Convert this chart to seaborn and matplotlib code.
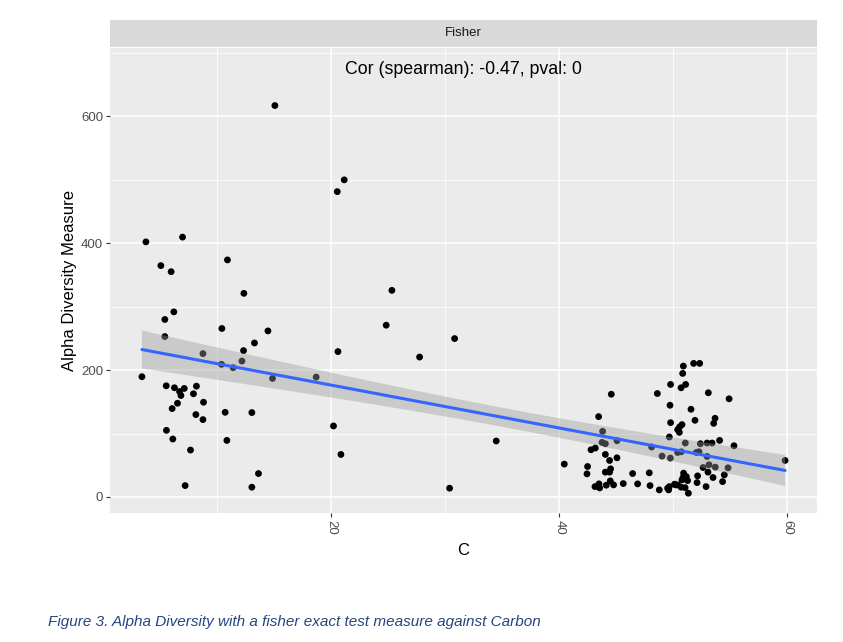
import matplotlib
matplotlib.use("Agg")
import matplotlib.pyplot as plt
from matplotlib.ticker import MultipleLocator
import numpy as np
import pandas as pd
import seaborn as sns

# ---- data ----
carbon_low = [3.75, 6.96, 5.06, 5.96, 10.9, 12.34, 6.2, 5.41, 10.41, 14.45,
              5.41, 13.27, 12.31, 8.75, 12.17, 10.38, 11.4, 14.85, 3.4, 5.53,
              6.25, 7.11, 6.7, 6.82, 8.18, 7.92, 6.52, 8.8, 6.05, 10.7,
              13.04, 8.13, 8.75, 5.55, 6.11, 10.85, 7.66, 13.62, 7.19, 13.04,
              15.06]
alpha_low = [402, 409.5, 364.6, 355, 373.6, 320.9, 291.7, 279.7, 265.5, 261.7,
             252.8, 242.7, 230.6, 225.9, 214.2, 209, 203.7, 186.8, 189.5, 175.2,
             172.1, 171, 166.2, 159.9, 174.6, 162.6, 147.7, 149.3, 139.3, 133.4,
             133, 129.8, 121.9, 105, 91.3, 89.1, 73.9, 36.9, 17.9, 15.4,
             616.9]

carbon_mid = [21.14, 20.53, 25.32, 24.82, 30.82, 20.59, 27.75, 18.68, 20.2, 20.85,
              34.47, 30.38]
alpha_mid = [499.8, 481.2, 325.6, 270.7, 249.6, 229.1, 220.5, 188.9, 111.9, 67,
             88.2, 13.8]

carbon_high = [44.56, 48.6, 49.76, 49.71, 43.45, 49.76, 43.8, 43.75, 44.04, 45.06,
               43.16, 42.78, 48.1, 49.65, 44.04, 45.06, 44.41, 40.44, 49.01, 49.74,
               42.48, 44.5, 44.04, 44.41, 42.43, 46.43, 47.89, 44.47, 44.76, 45.61,
               46.87, 47.96, 43.48, 43.13, 44.12, 43.54, 48.77, 49.5, 49.65, 50.11,
               51.78, 52.31, 50.88, 50.82, 51.08, 50.68, 53.07, 54.89, 51.55, 51.9,
               53.66, 53.54, 50.76, 50.55, 50.38, 50.53, 51.05, 52.37, 52.96, 53.4,
               54.06, 55.32, 59.8, 50.38, 50.7, 52.02, 52.25, 52.96, 52.61, 53.13,
               53.68, 54.8, 53.04, 54.47, 53.48, 54.32, 50.9, 51.14, 50.85, 52.13,
               50.76, 51.25, 52.08, 52.87, 51.03, 51.32, 50.38, 50.2, 50.68, 49.59]
alpha_high = [161.9, 163, 177.3, 144.5, 126.6, 117.1, 103.4, 86, 83.9, 88.6,
              77.1, 74.4, 78.7, 94.5, 67, 61.7, 57.5, 51.8, 64.4, 61.3,
              48, 44.3, 39.1, 39.1, 36.4, 36.9, 38, 25.3, 19, 21.1,
              20.6, 17.9, 20.6, 16.3, 18.5, 14.2, 11.1, 13.8, 16.3, 20.1,
              210.5, 210.5, 206.3, 194.7, 177.3, 172.1, 164.2, 154.7, 138.2, 120.8,
              124, 116, 114, 110.3, 106.1, 101.8, 85, 83.9, 85, 85,
              89.1, 80.7, 57.5, 70.1, 71.2, 70.1, 71.2, 63.8, 46.4, 50.7,
              47, 45.9, 39.1, 34.8, 30.6, 24.2, 37.5, 32.1, 30.6, 33.2,
              26.9, 25.8, 22.6, 16.3, 14.7, 5.9, 19, 19, 15.4, 11.1]

panel_label = "Fisher"
annotation = "Cor (spearman): -0.47, pval: 0"
x_label = "C"
y_label = "Alpha Diversity Measure"
caption = "Figure 3. Alpha Diversity with a fisher exact test measure against Carbon"
x_ticks = [20, 40, 60]
y_ticks = [0, 200, 400, 600]

df = pd.DataFrame({
    "C": carbon_low + carbon_mid + carbon_high,
    "alpha": alpha_low + alpha_mid + alpha_high,
})

# ---- styling ----
sns.set_theme(style="white")
plt.rcParams["font.family"] = ["Liberation Sans", "DejaVu Sans"]

W, H = 843, 642
fig = plt.figure(figsize=(W / 100, H / 100), dpi=100)
fig.patch.set_facecolor("white")

px_l, px_r, px_t, px_b = 110, 817, 48, 513
ax = fig.add_axes([px_l / W, 1 - px_b / H, (px_r - px_l) / W, (px_b - px_t) / H])
ax.set_facecolor("#EBEBEB")

sns.scatterplot(data=df, x="C", y="alpha", ax=ax, color="black", s=24,
                edgecolor="none", linewidth=0, zorder=2)

# linear fit line via seaborn
sns.regplot(data=df, x="C", y="alpha", ax=ax, scatter=False, ci=None,
            color="#3366FF", line_kws={"lw": 2.2, "zorder": 4})

# analytical 95% confidence band (like ggplot2 geom_smooth(method = "lm"))
xv = df["C"].to_numpy(float)
yv = df["alpha"].to_numpy(float)
n = len(xv)
b1, b0 = np.polyfit(xv, yv, 1)
resid = yv - (b0 + b1 * xv)
s = np.sqrt(np.sum(resid ** 2) / (n - 2))
xbar = xv.mean()
sxx = np.sum((xv - xbar) ** 2)
grid = np.linspace(xv.min(), xv.max(), 100)
yhat = b0 + b1 * grid
se = s * np.sqrt(1 / n + (grid - xbar) ** 2 / sxx)
tcrit = 1.977
ax.fill_between(grid, yhat - tcrit * se, yhat + tcrit * se, facecolor="#999999",
                alpha=0.4, edgecolor="none", zorder=3)

ax.set_xlim(0.6, 62.6)
ax.set_ylim(-25.3, 707.6)
ax.xaxis.set_minor_locator(MultipleLocator(10))
ax.yaxis.set_minor_locator(MultipleLocator(100))
ax.set_xticks(x_ticks)
ax.set_yticks(y_ticks)
ax.grid(True, which="major", color="white", lw=1.1)
ax.grid(True, which="minor", color="white", lw=0.55)
ax.set_axisbelow(True)
for sp in ax.spines.values():
    sp.set_visible(False)

ax.tick_params(axis="both", which="major", length=3, width=0.8, color="#333333",
               labelcolor="#4D4D4D", labelsize=9.5, pad=2, bottom=True, left=True)
ax.tick_params(axis="both", which="minor", length=0)
for lab in ax.get_xticklabels():
    lab.set_rotation(270)
    lab.set_va("top")
    lab.set_ha("center")

ax.set_xlabel(x_label, fontsize=12, color="black", labelpad=6)
ax.set_ylabel(y_label, fontsize=12, color="black", labelpad=3)

ax.text(sum(ax.get_xlim()) / 2, 674, annotation, fontsize=12.8,
        ha="center", va="center", color="black")

# facet strip
strip = fig.add_axes([px_l / W, 1 - 47 / H, (px_r - px_l) / W, 27 / H])
strip.set_facecolor("#D9D9D9")
strip.set_xticks([]); strip.set_yticks([])
for sp in strip.spines.values():
    sp.set_visible(False)
strip.text(0.5, 0.5, panel_label, ha="center", va="center", fontsize=9.5,
           color="#1A1A1A", transform=strip.transAxes)

fig.text(48 / W, 1 - 622 / H, caption, fontsize=11, style="italic",
         color="#24467E", ha="left", va="center")

fig.savefig("out.png", dpi=100)
